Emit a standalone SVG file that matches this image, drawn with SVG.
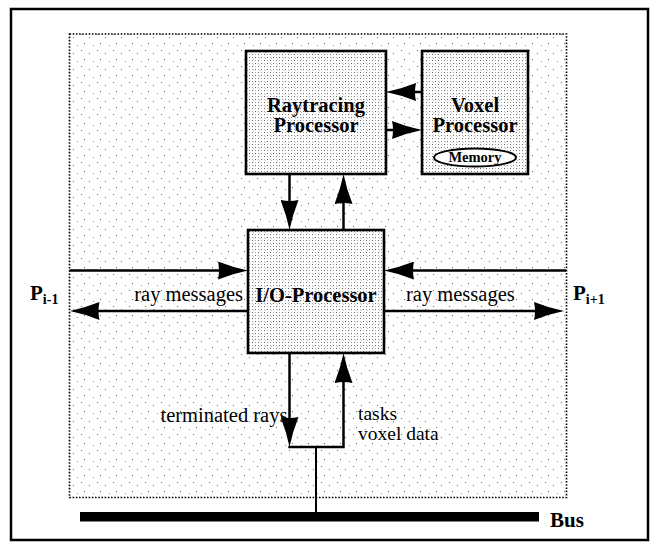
<svg xmlns="http://www.w3.org/2000/svg" width="652" height="543" viewBox="0 0 652 543">
  <style>
    .frame { fill: #fff; stroke: #000; stroke-width: 2.5; }
    .region { fill: url(#sparseDots); stroke: #000; stroke-width: 1.6; stroke-dasharray: 1.6 1.6; }
    .box { stroke: #000; stroke-width: 2.6; }
    .box-bg { fill: #fff; }
    .box-dots { fill: url(#denseDots); }
    .conn { fill: none; stroke: #000; stroke-width: 2.5; }
    .arrow { marker-end: url(#head); }
    text { font-family: 'Liberation Serif', 'DejaVu Serif', 'Noto Serif', serif; fill: #000; }
    .label { font-weight: bold; font-size: 20.5px; }
    .note { font-size: 20.5px; }
    .mem { font-weight: bold; font-size: 14.5px; }
    .mid { text-anchor: middle; }
  </style>
  <defs>
    <pattern id="sparseDots" width="16" height="16" patternUnits="userSpaceOnUse">
      <rect x="1" y="2" width="1" height="1" fill="#666"/>
      <rect x="9" y="5" width="1" height="1" fill="#777"/>
      <rect x="4" y="11" width="1" height="1" fill="#666"/>
      <rect x="13" y="13" width="1" height="1" fill="#888"/>
    </pattern>
    <pattern id="denseDots" width="6" height="6" patternUnits="userSpaceOnUse">
      <rect x="0" y="0" width="1" height="1" fill="#666"/>
      <rect x="3" y="3" width="1" height="1" fill="#666"/>
      <rect x="3" y="0" width="1" height="1" fill="#aaa"/>
      <rect x="0" y="3" width="1" height="1" fill="#aaa"/>
      <rect x="1" y="4" width="1" height="1" fill="#bbb"/>
    </pattern>
    <marker id="head" viewBox="0 0 30 18" refX="15" refY="9" markerWidth="30" markerHeight="18" markerUnits="userSpaceOnUse" orient="auto">
      <path d="M0,0 Q15,6 30,9 Q15,12 0,18 Q2,9 0,0 Z" fill="#000"/>
    </marker>
  </defs>

  <!-- outer frame -->
  <rect class="frame" x="11" y="9" width="637" height="531"/>

  <!-- processing element area -->
  <rect id="element" class="region" x="69.5" y="34" width="497" height="463.5"/>

  <!-- bus -->
  <g id="bus">
    <rect x="80" y="512" width="459" height="9.5" fill="#000"/>
    <text class="label" x="550" y="527" style="font-size:21px">Bus</text>
  </g>

  <!-- connectors -->
  <g id="connectors">
    <line class="conn arrow" x1="422" y1="92" x2="401" y2="92"/>
    <line class="conn arrow" x1="386" y1="130" x2="407" y2="130"/>
    <line class="conn arrow" x1="289.5" y1="174" x2="289.5" y2="215"/>
    <line class="conn arrow" x1="343.5" y1="231" x2="343.5" y2="189"/>
    <line class="conn arrow" x1="69.5" y1="270.5" x2="233" y2="270.5"/>
    <line class="conn arrow" x1="566" y1="270.5" x2="399" y2="270.5"/>
    <line class="conn arrow" x1="248" y1="311" x2="84.5" y2="311"/>
    <line class="conn arrow" x1="384" y1="311" x2="549" y2="311"/>
    <line class="conn arrow" x1="289.5" y1="353" x2="289.5" y2="432"/>
    <path class="conn arrow" d="M288.3,447 H343.5 V368"/>
    <line class="conn" x1="316" y1="447" x2="316" y2="512" style="stroke-width:2"/>
  </g>

  <!-- Raytracing Processor -->
  <g id="raytracing">
    <rect class="box-bg" x="246" y="51" width="140" height="123"/>
    <rect class="box box-dots" x="246" y="51" width="140" height="123"/>
    <text class="label mid" x="316" y="111.5">Raytracing</text>
    <text class="label mid" x="316" y="131.5">Processor</text>
  </g>

  <!-- Voxel Processor with its memory -->
  <g id="voxel">
    <rect class="box-bg" x="422" y="51" width="106" height="123"/>
    <rect class="box box-dots" x="422" y="51" width="106" height="123"/>
    <text class="label mid" x="475" y="111.5">Voxel</text>
    <text class="label mid" x="475" y="131.5">Processor</text>
    <ellipse cx="475" cy="157.5" rx="41" ry="9" fill="#fff" stroke="#000" stroke-width="2"/>
    <text class="mem mid" x="475" y="162">Memory</text>
  </g>

  <!-- I/O Processor -->
  <g id="io">
    <rect class="box-bg" x="248" y="230" width="136" height="123"/>
    <rect class="box box-dots" x="248" y="230" width="136" height="123"/>
    <text class="label mid" x="316" y="302">I/O-Processor</text>
  </g>

  <!-- neighbour labels -->
  <g id="prev">
    <text class="label" x="30" y="300" style="font-size:21px">P<tspan y="304" style="font-size:14px">i-1</tspan></text>
  </g>
  <g id="next">
    <text class="label" x="573" y="300" style="font-size:21px">P<tspan y="304" style="font-size:14px">i+1</tspan></text>
  </g>

  <!-- connector labels -->
  <g id="connector-labels">
    <text class="note" x="243" y="301" text-anchor="end">ray messages</text>
    <text class="note" x="406" y="301">ray messages</text>
    <text class="note" x="160.5" y="421.5">terminated rays</text>
    <text class="note" x="358" y="420" style="font-size:19.5px">tasks</text>
    <text class="note" x="358" y="440" style="font-size:19.5px">voxel data</text>
  </g>
</svg>
